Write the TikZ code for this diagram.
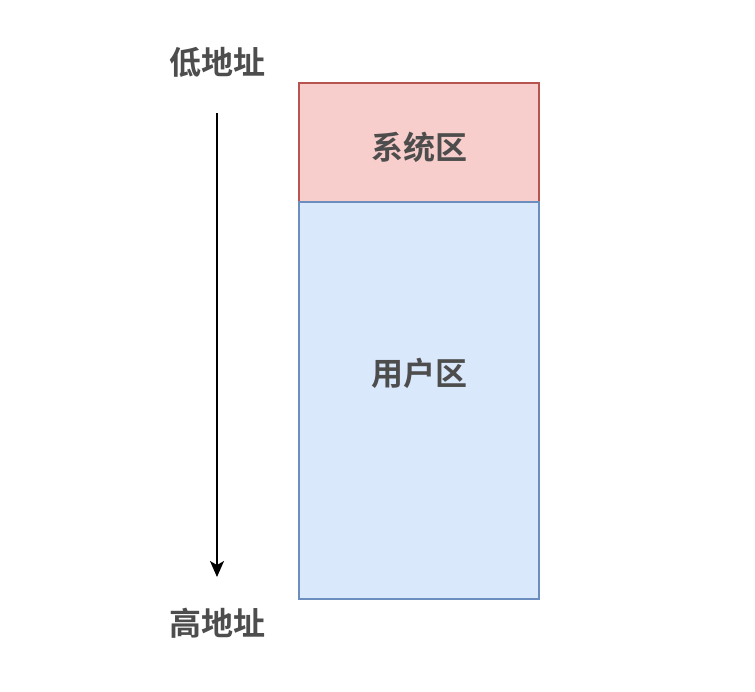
\documentclass[tikz,border=0pt]{standalone}
\usepackage{fontspec}
\newfontfamily\cjk{Noto Sans CJK SC}[BoldFont={Noto Sans CJK SC Bold}]
\usetikzlibrary{arrows.meta}
\definecolor{txt}{HTML}{4D4D4D}
\definecolor{redfill}{HTML}{F8CECC}
\definecolor{redline}{HTML}{B85450}
\definecolor{bluefill}{HTML}{DAE8FC}
\definecolor{blueline}{HTML}{6C8EBF}
\tikzset{
  lbl/.style={font=\cjk\bfseries\fontsize{32}{36}\selectfont, text=txt, inner sep=0pt},
  region/.style={draw, line width=1.5pt, minimum width=240pt, inner sep=0pt},
}
\begin{document}
\begin{tikzpicture}[x=1pt,y=-1pt]
\useasboundingbox (0,0) rectangle (755,691);
\node[region, fill=redfill, draw=redline, minimum height=119pt] (sys) at (419,142.5) {};
\node[region, fill=bluefill, draw=blueline, minimum height=397pt] (usr) at (419,400.5) {};
\node[lbl] (systxt) at (419,147) {系统区};
\node[lbl] (usrtxt) at (419,373) {用户区};
\node[lbl] (low) at (217,62) {低地址};
\node[lbl] (high) at (217,623) {高地址};
\coordinate (a0) at (217,113);
\coordinate (a1) at (217,577);
\draw[line width=1.5pt, -{Stealth[length=16pt,width=14pt,inset=4pt]}] (a0) -- (a1);
\end{tikzpicture}
\end{document}
